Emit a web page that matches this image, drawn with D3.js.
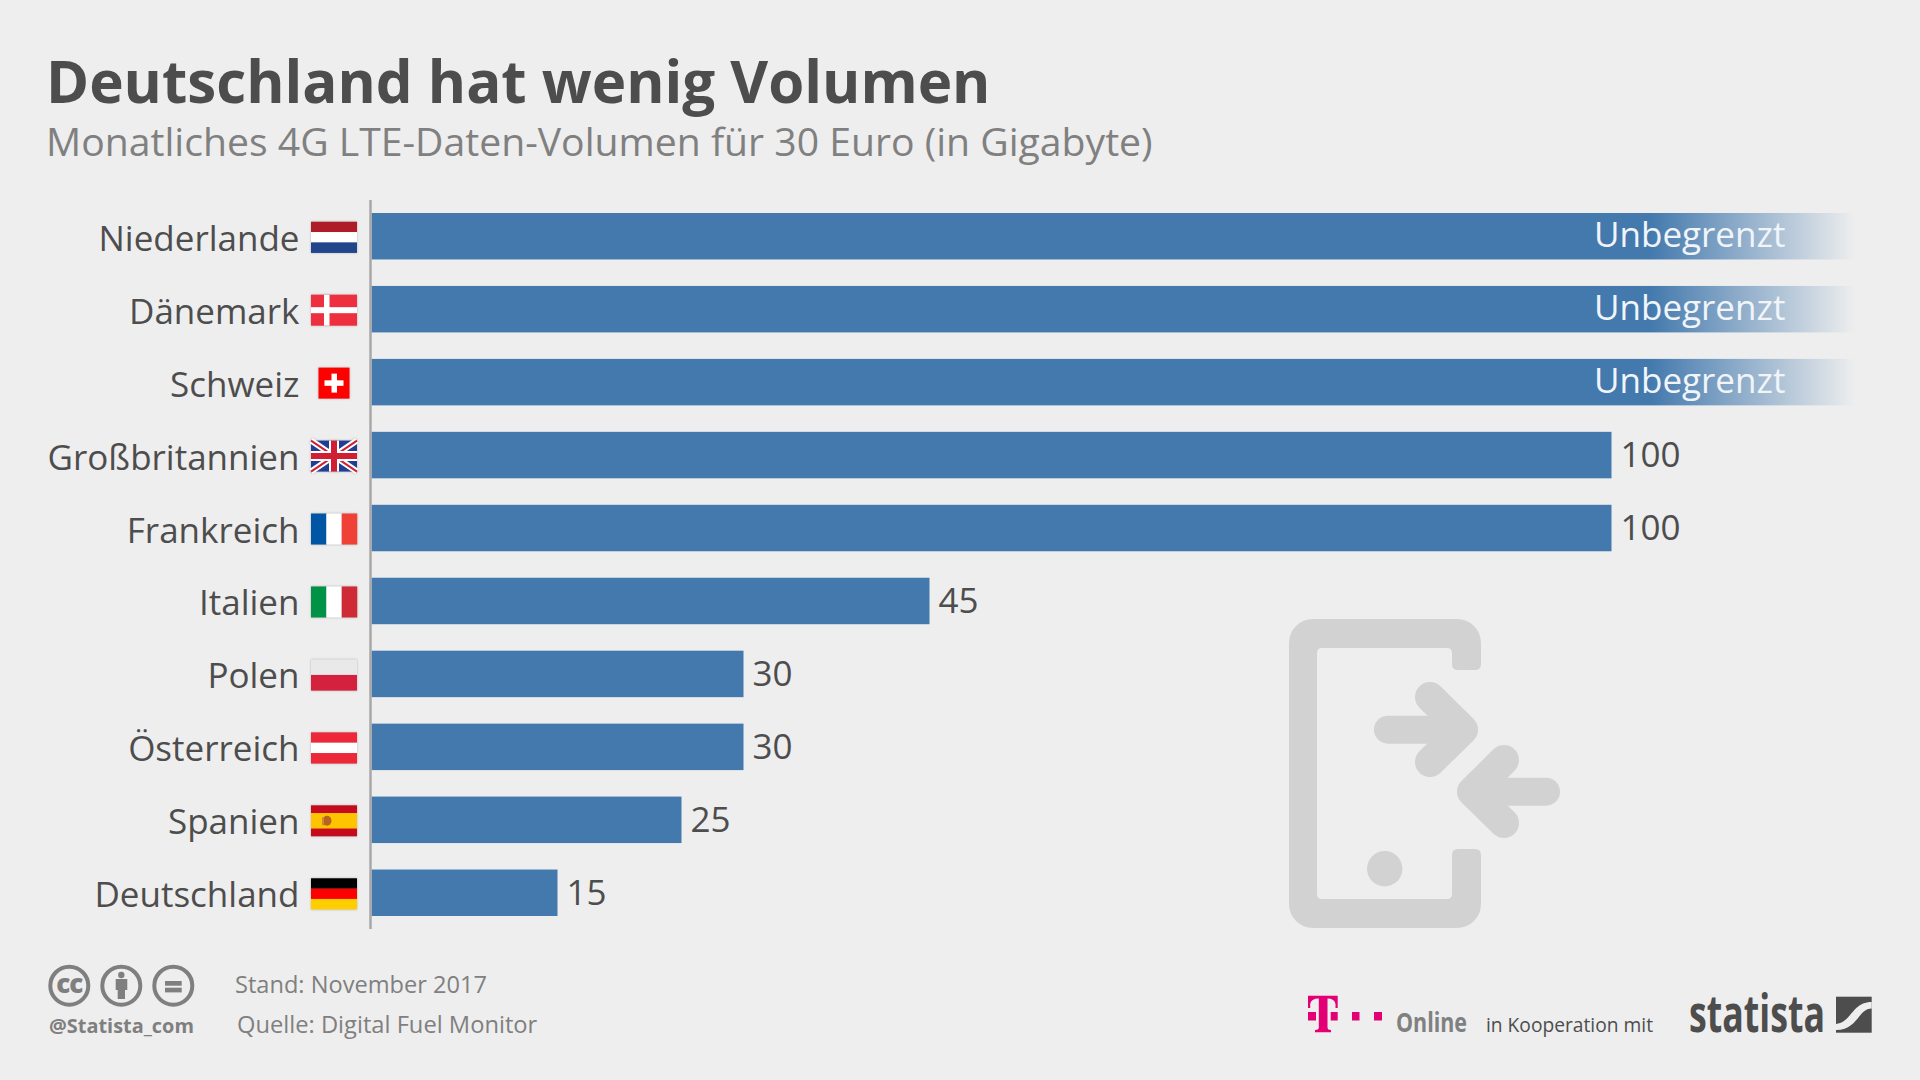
<!DOCTYPE html>
<html lang="de"><head><meta charset="utf-8">
<script src="https://cdn.jsdelivr.net/npm/d3@7"></script>
<style>
html,body{margin:0;padding:0;background:#eeeeee}
svg{display:block}
text{font-family:"Open Sans",sans-serif}
</style></head><body>
<svg id="c" width="1920" height="1080"></svg>
<script>
const categories=["Niederlande","Dänemark","Schweiz","Großbritannien","Frankreich","Italien","Polen","Österreich","Spanien","Deutschland"];
const values=[120,120,120,100,100,45,30,30,25,15];
const valueLabels=["Unbegrenzt","Unbegrenzt","Unbegrenzt","100","100","45","30","30","25","15"];
const title="Deutschland hat wenig Volumen";
const subtitle="Monatliches 4G LTE-Daten-Volumen für 30 Euro (in Gigabyte)";

const BG="#eeeeee",BAR="#4379ad",TXT="#4d4d4d",GREY="#808080",ICON="#d2d2d2";
const svg=d3.select("#c");
svg.append("rect").attr("width",1920).attr("height",1080).attr("fill",BG);
const defs=svg.append("defs");
const x=d3.scaleLinear().domain([0,100]).range([371.5,1611.5]);
const y=d3.scaleBand().domain(categories).range([213,916]).paddingInner(0.363).paddingOuter(0);

const grad=defs.append("linearGradient").attr("id","fade").attr("gradientUnits","userSpaceOnUse")
 .attr("x1",1650).attr("x2",1855).attr("y1",0).attr("y2",0);
grad.append("stop").attr("offset",0).attr("stop-color",BAR);
grad.append("stop").attr("offset",1).attr("stop-color",BG);

svg.append("text").text(title).attr("x",46).attr("y",103).attr("font-size",58.3).attr("font-weight",700).attr("fill",TXT);
svg.append("text").text(subtitle).attr("x",46).attr("y",155.5).attr("font-size",39.15).attr("fill",GREY);

// bars
svg.append("g").selectAll("rect").data(categories).join("rect")
 .attr("x",x(0)).attr("y",d=>y(d)).attr("height",y.bandwidth())
 .attr("width",(d,i)=>x(values[i])-x(0))
 .attr("fill",(d,i)=>values[i]>100?"url(#fade)":BAR);

// value labels
svg.append("g").selectAll("text").data(categories).join("text")
 .text((d,i)=>valueLabels[i])
 .attr("x",(d,i)=>values[i]>100?1594:x(values[i])+9)
 .attr("y",(d,i)=>y(d)+(values[i]>100?34:35))
 .attr("font-size",35)
 .attr("fill",(d,i)=>values[i]>100?"#f1f5f9":TXT);

// category axis
const axis=d3.axisLeft(y).tickSize(0).tickPadding(0);
const ga=svg.append("g").attr("transform","translate(299.5,0)").call(axis);
ga.select(".domain").remove();
ga.selectAll("text").attr("font-family",'"Open Sans",sans-serif').attr("font-size",35).attr("fill",TXT)
 .attr("y",0).attr("dy","14.5");
svg.append("line").attr("x1",370.5).attr("x2",370.5).attr("y1",200).attr("y2",929).attr("stroke","#a8a8a8").attr("stroke-width",2.5);

// flags
const FW=46,FH=31;
function stripesH(g,cols){const h=FH/cols.length;cols.forEach((c,i)=>g.append("rect").attr("y",i*h).attr("width",FW).attr("height",h+.2).attr("fill",c));}
function stripesV(g,cols){const w=FW/cols.length;cols.forEach((c,i)=>g.append("rect").attr("x",i*w).attr("width",w+.2).attr("height",FH).attr("fill",c));}
const flagDraw={
 "Niederlande":g=>stripesH(g,["#ae1c28","#ffffff","#21468b"]),
 "Dänemark":g=>{g.append("rect").attr("width",FW).attr("height",FH).attr("fill","#ee2f40");
   g.append("rect").attr("x",13).attr("width",5.5).attr("height",FH).attr("fill","#fff");
   g.append("rect").attr("y",12.5).attr("width",FW).attr("height",6).attr("fill","#fff");},
 "Schweiz":g=>{g.append("rect").attr("x",7.5).attr("width",31).attr("height",FH).attr("fill","#f00");
   g.append("rect").attr("x",20.5).attr("y",6).attr("width",5.5).attr("height",19).attr("fill","#fff");
   g.append("rect").attr("x",13.5).attr("y",12.7).attr("width",19).attr("height",5.5).attr("fill","#fff");},
 "Großbritannien":g=>{g.append("rect").attr("width",FW).attr("height",FH).attr("fill","#1f3f94");
   const l=(a,b,c,d,col,w)=>g.append("line").attr("x1",a).attr("y1",b).attr("x2",c).attr("y2",d).attr("stroke",col).attr("stroke-width",w);
   l(0,0,FW,FH,"#fff",6);l(FW,0,0,FH,"#fff",6);l(0,0,FW,FH,"#cf2033",2);l(FW,0,0,FH,"#cf2033",2);
   l(23,0,23,FH,"#fff",10);l(0,15.5,FW,15.5,"#fff",10);l(23,0,23,FH,"#cf2033",6);l(0,15.5,FW,15.5,"#cf2033",6);},
 "Frankreich":g=>stripesV(g,["#0055a4","#ffffff","#ef4135"]),
 "Italien":g=>stripesV(g,["#009246","#ffffff","#ce2b37"]),
 "Polen":g=>stripesH(g,["#e9e9e9","#d4213d"]),
 "Österreich":g=>stripesH(g,["#ed2939","#ffffff","#ed2939"]),
 "Spanien":g=>{g.append("rect").attr("width",FW).attr("height",FH).attr("fill","#c60b1e");
   g.append("rect").attr("y",7.7).attr("width",FW).attr("height",15.5).attr("fill","#ffc400");
   g.append("ellipse").attr("cx",16).attr("cy",15.5).attr("rx",4.5).attr("ry",5).attr("fill","#b5651d");
   g.append("rect").attr("x",11).attr("y",12).attr("width",2).attr("height",8).attr("fill","#c98a3a");},
 "Deutschland":g=>stripesH(g,["#000000","#ff0000","#ffce00"])
};
const fg=svg.append("g").selectAll("g").data(categories).join("g")
 .attr("transform",d=>`translate(311,${y(d)+y.bandwidth()/2-14.5})`)
 .style("filter","drop-shadow(0 0 1px rgba(0,0,0,.25))");
fg.each(function(d){flagDraw[d](d3.select(this));});

// phone icon
const ic=svg.append("g");
ic.append("path").attr("fill",ICON).attr("d","M1481,664V643a24,24 0 0 0 -24,-24H1313a24,24 0 0 0 -24,24V904a24,24 0 0 0 24,24H1457a24,24 0 0 0 24,-24V855q0,-6 -6,-6H1458q-6,0 -6,6V894q0,5 -5,5H1322q-5,0 -5,-5V653q0,-5 5,-5H1447q5,0 5,5V664q0,6 6,6H1475q6,0 6,-6Z");
ic.append("circle").attr("cx",1384.7).attr("cy",868.7).attr("r",17.7).attr("fill",ICON);
const arrow=(p)=>ic.append("path").attr("d",p).attr("fill","none").attr("stroke",ICON).attr("stroke-width",30).attr("stroke-linecap","round").attr("stroke-linejoin","round");
ic.append("path").attr("d","M1388,729.7H1455").attr("stroke",ICON).attr("stroke-width",28).attr("stroke-linecap","round");
arrow("M1430,697L1463,729.7L1430,762");
ic.append("path").attr("d","M1480,791.7H1546").attr("stroke",ICON).attr("stroke-width",28).attr("stroke-linecap","round");
defs.append("clipPath").attr("id","cl").append("rect").attr("x",1400).attr("y",700).attr("width",120).attr("height",200);
arrow("M1504,760L1472,791.7L1504,823").attr("clip-path","url(#cl)");

// footer left
const FC="#7f7f7f";
[69.3,121.3,173.3].forEach(cx=>svg.append("circle").attr("cx",cx).attr("cy",985.7).attr("r",19).attr("fill","none").attr("stroke",FC).attr("stroke-width",4));
svg.append("text").text("cc").attr("x",69.3).attr("y",992.7).attr("text-anchor","middle").attr("font-size",26).attr("font-weight",800).attr("fill",FC).attr("letter-spacing",-1);
svg.append("circle").attr("cx",121.3).attr("cy",975).attr("r",3.2).attr("fill",FC);
svg.append("path").attr("fill",FC).attr("d","M115.7,979H127.3V990H125V999H117.7V990H115.7Z");
svg.append("rect").attr("x",165).attr("y",981).attr("width",16.7).attr("height",4.7).attr("fill",FC);
svg.append("rect").attr("x",165).attr("y",987.7).attr("width",16.7).attr("height",4.7).attr("fill",FC);
svg.append("text").text("@Statista_com").attr("x",49).attr("y",1033.3).attr("font-size",19.9).attr("font-weight",700).attr("fill",FC);
svg.append("text").text("Stand: November 2017").attr("x",235).attr("y",993).attr("font-size",23.6).attr("fill",GREY);
svg.append("text").text("Quelle: Digital Fuel Monitor").attr("x",237).attr("y",1033).attr("font-size",23.7).attr("fill",GREY);

// footer right
const MAG="#e20074";
svg.append("path").attr("fill",MAG).attr("d","M1308,995.7H1337.7V1008H1335.5V1004Q1334.5,998.5 1327.5,998.5V1027.5Q1327.5,1030 1331,1030V1032.3H1315V1030Q1318.8,1030 1318.8,1027.5V998.5Q1311,998.5 1310.2,1004V1008H1308Z");
[[1308,8],[1330.7,7],[1352,7.5],[1374,8]].forEach(p=>svg.append("rect").attr("x",p[0]).attr("y",1012).attr("width",p[1]).attr("height",8.5).attr("fill",MAG));
svg.append("text").text("Online").attr("x",1396).attr("y",1032).attr("font-size",26).attr("font-weight",700).attr("fill","#808080").attr("textLength",71).attr("lengthAdjust","spacingAndGlyphs");
svg.append("text").text("in Kooperation mit").attr("x",1486).attr("y",1032).attr("font-size",20).attr("fill",TXT).attr("textLength",167).attr("lengthAdjust","spacingAndGlyphs");
svg.append("text").text("statista").attr("x",1689).attr("y",1032).attr("font-family",'"Liberation Sans Narrow","Open Sans",sans-serif').attr("font-size",52).attr("font-weight",700).attr("fill",TXT).attr("textLength",136).attr("lengthAdjust","spacingAndGlyphs");
svg.append("rect").attr("x",1836).attr("y",996.7).attr("width",35.7).attr("height",36).attr("fill",TXT);
svg.append("path").attr("fill",BG).attr("d","M1871.7,1002C1852,1002 1852,1022 1836,1024V1030C1858,1030 1858,1008.5 1871.7,1008.5Z");
</script></body></html>
